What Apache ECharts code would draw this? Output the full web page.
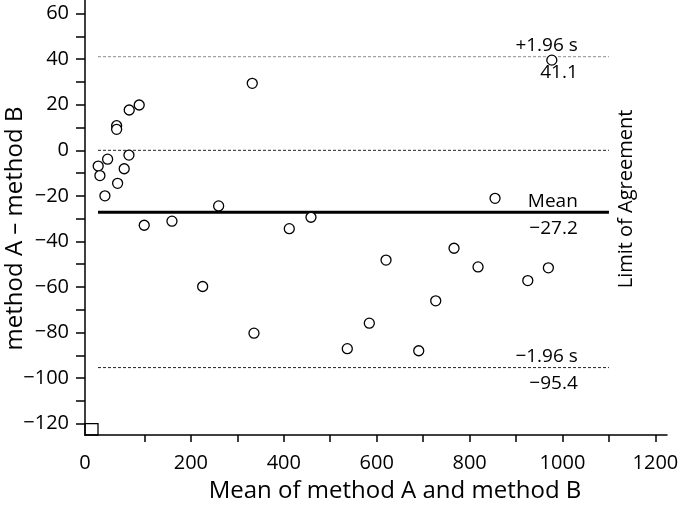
<!DOCTYPE html>
<html>
<head>
<meta charset="utf-8">
<script src="https://cdn.jsdelivr.net/npm/echarts@6/dist/echarts.min.js"></script>
<style>
  html, body { margin: 0; padding: 0; background: #fff; }
  #chart { width: 680px; height: 509px; }
</style>
</head>
<body>
<div id="chart"></div>
<script>
// Bland-Altman plot: differences against means
var meanAB = [0.4, 4.1, 14.9, 20.7, 42.2, 40.1, 40.1, 56.4, 66.6, 67.2, 88.7, 99.5, 159.2,
  225.3, 259.7, 332.1, 335.8, 411.8, 458.5, 536.7, 584.1, 620.1, 690.5, 727.1, 766.5,
  818.2, 854.8, 925.3, 969.6, 977];
var diffAB = [-6.9, -11.1, -20.0, -3.9, -14.5, 10.8, 9.2, -8.1, -2.1, 17.7, 19.9, -32.9, -31.1,
  -59.8, -24.4, 29.4, -80.3, -34.4, -29.4, -87.1, -75.9, -48.2, -88.0, -66.1, -43.0,
  -51.2, -21.1, -57.2, -51.6, 39.6];

var limitNames = ['+1.96 s', 'Mean', '\u22121.96 s'];
var limitValues = [41.1, -27.2, -95.4];
var limitText = ['41.1', '\u221227.2', '\u221295.4'];
var lineSpan = [0, 1100];
var labelAt = 1033;

var xTicks = [100, 200, 300, 400, 500, 600, 700, 800, 900, 1000, 1100, 1200];
var xTickLabels = [0, 200, 400, 600, 800, 1000, 1200];
var yTicks = [-120, -110, -100, -90, -80, -70, -60, -50, -40, -30, -20, -10, 0, 10, 20, 30, 40, 50, 60];
var yTickLabels = [-120, -100, -80, -60, -40, -20, 0, 20, 40, 60];

var xMin = -28, xMax = 1225, yMin = -125, yMax = 66;

var FONT = "'Open Sans', sans-serif";
var INK = '#000';

var chart = echarts.init(document.getElementById('chart'));

function fmtNum(v) {
  return v < 0 ? '\u2212' + Math.abs(v) : String(v);
}

var points = meanAB.map(function (m, i) { return [m, diffAB[i]]; });

var lineStyles = [
  { color: '#8a8a8a', width: 1, type: [3, 2] },
  { color: INK, width: 3, type: 'solid' },
  { color: '#222', width: 1, type: [3, 2] }
];

var series = [];

// zero line
series.push({
  type: 'line', silent: true, symbol: 'none', z: 2,
  data: [[lineSpan[0], 0], [lineSpan[1], 0]],
  lineStyle: { color: '#222', width: 1, type: [3, 2] },
  // small box in the corner below -120, left of 0
  markArea: {
    silent: true,
    itemStyle: { color: 'rgba(0,0,0,0)', borderColor: INK, borderWidth: 1.3 },
    data: [[{ coord: [xMin, yMin] }, { coord: [0, -120] }]]
  }
});

limitValues.forEach(function (v, i) {
  series.push({
    type: 'line', silent: true, symbol: 'none', z: 2,
    data: [[lineSpan[0], v], [lineSpan[1], v]],
    lineStyle: lineStyles[i]
  });
});

var labelData = [];
limitValues.forEach(function (v, i) {
  labelData.push({ value: [labelAt, v], label: { formatter: limitNames[i], position: [0, -11] } });
  labelData.push({ value: [labelAt, v], label: { formatter: limitText[i], position: [0, 16] } });
});

series.push({
  type: 'scatter', silent: true, z: 3,
  symbolSize: 0.01,
  itemStyle: { color: INK },
  label: {
    show: true, align: 'right', verticalAlign: 'middle',
    color: INK, opacity: 1, fontFamily: FONT, fontSize: 19
  },
  data: labelData
});

series.push({
  type: 'scatter', z: 5,
  symbol: 'circle', symbolSize: 10,
  itemStyle: { color: '#fff', borderColor: INK, borderWidth: 1.3, opacity: 1 },
  data: points
});

var option = {
  animation: false,
  backgroundColor: '#fff',
  grid: { left: 85, right: 13, top: 0, bottom: 74, containLabel: false, outerBoundsMode: 'none' },
  xAxis: {
    type: 'value', min: xMin, max: xMax,
    name: 'Mean of method A and method B',
    nameLocation: 'middle', nameGap: 44, nameMoveOverlap: false,
    nameTextStyle: { fontFamily: FONT, fontSize: 24, color: INK, padding: [0, 0, 0, 38] },
    axisLine: { show: true, onZero: false, lineStyle: { color: INK, width: 1.5 } },
    axisTick: { show: true, inside: false, length: 7, lineStyle: { color: INK, width: 1.5 }, customValues: xTicks },
    axisLabel: {
      fontFamily: FONT, fontSize: 20, color: INK, margin: 18,
      customValues: xTickLabels.map(function (v) { return v === 0 ? xMin : v; }),
      formatter: function (v) { return v < 0 ? '0' : fmtNum(v); }
    },
    splitLine: { show: false }
  },
  yAxis: {
    type: 'value', min: yMin, max: yMax,
    name: 'method A \u2013 method B',
    nameLocation: 'middle', nameGap: 58, nameRotate: 90, nameMoveOverlap: false,
    nameTextStyle: { fontFamily: FONT, fontSize: 24, color: INK, padding: [0, 22, 0, 0] },
    axisLine: { show: true, onZero: false, lineStyle: { color: INK, width: 1.5 } },
    axisTick: { show: true, inside: false, length: 9, lineStyle: { color: INK, width: 1.5 }, customValues: yTicks },
    axisLabel: {
      fontFamily: FONT, fontSize: 20, color: INK, margin: 16,
      customValues: yTickLabels,
      formatter: fmtNum
    },
    splitLine: { show: false }
  },
  graphic: [{
    type: 'text', x: 626, y: 199, rotation: Math.PI / 2,
    style: {
      text: 'Limit of Agreement', font: '20px ' + FONT, fill: INK,
      align: 'center', verticalAlign: 'middle'
    }
  }],
  series: series
};

chart.setOption(option);
window.addEventListener('resize', function () { chart.resize(); });
</script>
</body>
</html>
